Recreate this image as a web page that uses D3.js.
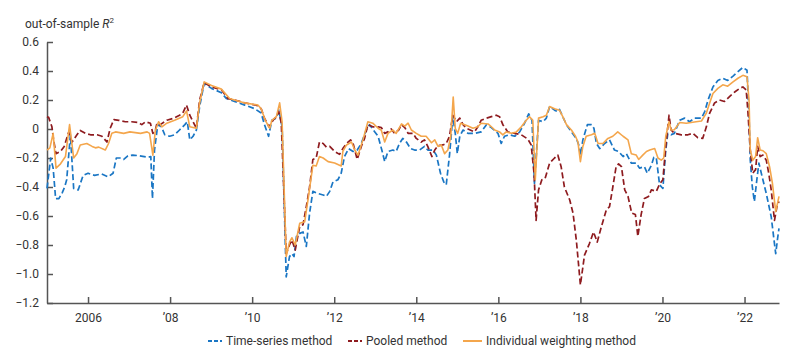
<!DOCTYPE html>
<html><head><meta charset="utf-8">
<script src="https://cdn.jsdelivr.net/npm/d3@7"></script>
<style>
body{margin:0;background:#fff;}
text{font-family:Roboto,"Noto Sans",sans-serif;}
</style></head><body>
<svg id="chart" width="800" height="363"></svg>
<script>
// ---- data (decimal years, out-of-sample R^2) ----
const tsDates = [2005.00,2005.09,2005.15,2005.21,2005.29,2005.37,2005.43,2005.48,2005.57,2005.65,2005.76,2005.88,2006.00,2006.16,2006.33,2006.49,2006.61,2006.69,2006.81,2006.87,2006.97,2007.09,2007.26,2007.46,2007.53,2007.57,2007.62,2007.70,2007.79,2007.87,2007.99,2008.11,2008.23,2008.36,2008.42,2008.48,2008.56,2008.64,2008.72,2008.83,2009.01,2009.25,2009.37,2009.57,2009.82,2010.06,2010.22,2010.30,2010.40,2010.48,2010.59,2010.65,2010.73,2010.83,2010.91,2010.97,2011.02,2011.08,2011.16,2011.24,2011.32,2011.40,2011.48,2011.60,2011.73,2011.81,2011.89,2011.97,2012.09,2012.17,2012.25,2012.35,2012.46,2012.56,2012.66,2012.78,2012.86,2012.99,2013.07,2013.16,2013.23,2013.31,2013.43,2013.51,2013.59,2013.67,2013.76,2013.86,2013.96,2014.08,2014.20,2014.28,2014.41,2014.49,2014.59,2014.67,2014.73,2014.81,2014.89,2014.95,2015.00,2015.06,2015.14,2015.26,2015.42,2015.58,2015.71,2015.83,2015.99,2016.07,2016.15,2016.27,2016.40,2016.52,2016.64,2016.74,2016.82,2016.88,2016.98,2017.09,2017.17,2017.25,2017.37,2017.44,2017.49,2017.57,2017.66,2017.78,2017.90,2017.96,2018.00,2018.06,2018.17,2018.27,2018.33,2018.39,2018.47,2018.59,2018.71,2018.83,2018.93,2019.04,2019.12,2019.24,2019.36,2019.44,2019.56,2019.63,2019.73,2019.79,2019.85,2019.93,2020.01,2020.08,2020.13,2020.21,2020.29,2020.42,2020.54,2020.66,2020.78,2020.95,2021.03,2021.11,2021.23,2021.35,2021.47,2021.59,2021.72,2021.84,2021.96,2022.06,2022.11,2022.14,2022.19,2022.24,2022.30,2022.35,2022.43,2022.53,2022.65,2022.71,2022.76,2022.81,2022.84];
const tsValues = [-0.41,-0.20,-0.27,-0.48,-0.48,-0.44,-0.40,-0.35,-0.04,-0.41,-0.42,-0.32,-0.305,-0.32,-0.31,-0.33,-0.305,-0.20,-0.20,-0.21,-0.185,-0.18,-0.185,-0.195,-0.19,-0.48,-0.145,0.03,0.015,-0.04,-0.05,-0.04,-0.007,0.03,0.05,-0.075,-0.05,-0.007,0.155,0.315,0.28,0.25,0.21,0.19,0.165,0.14,0.11,0.03,-0.05,0.06,0.075,0.13,0.015,-1.02,-0.88,-0.86,-0.88,-0.74,-0.72,-0.71,-0.81,-0.58,-0.43,-0.445,-0.455,-0.465,-0.43,-0.365,-0.35,-0.305,-0.19,-0.135,-0.155,-0.145,-0.10,-0.007,0.03,-0.02,-0.05,-0.145,-0.225,-0.155,-0.145,-0.155,-0.10,-0.065,-0.09,-0.135,-0.145,-0.145,-0.12,-0.145,-0.145,-0.18,-0.305,-0.365,-0.385,-0.18,0.085,-0.03,-0.17,-0.05,-0.007,-0.03,-0.03,-0.02,0.03,0.01,-0.03,-0.10,-0.05,-0.04,-0.05,-0.02,0.04,0.105,0.06,-0.375,0.06,0.05,0.075,0.155,0.13,0.12,0.135,0.085,0.03,-0.02,-0.065,-0.11,-0.18,-0.075,0.03,0.03,0.005,-0.10,-0.135,-0.10,-0.075,-0.145,-0.155,-0.19,-0.17,-0.235,-0.235,-0.27,-0.26,-0.305,-0.25,-0.195,-0.20,-0.385,-0.41,-0.145,-0.03,-0.04,-0.03,0.06,0.075,0.05,0.075,0.075,0.12,0.20,0.29,0.335,0.35,0.335,0.365,0.395,0.425,0.405,0.085,-0.215,-0.40,-0.50,-0.35,-0.235,-0.33,-0.445,-0.605,-0.745,-0.86,-0.745,-0.685];

const pooledDates = [2005.00,2005.04,2005.12,2005.16,2005.22,2005.33,2005.42,2005.53,2005.61,2005.73,2005.81,2005.94,2006.06,2006.22,2006.34,2006.46,2006.54,2006.63,2006.75,2006.91,2007.06,2007.23,2007.31,2007.40,2007.52,2007.58,2007.64,2007.68,2007.76,2007.92,2008.09,2008.23,2008.31,2008.40,2008.48,2008.56,2008.64,2008.72,2008.83,2009.01,2009.25,2009.41,2009.57,2009.82,2010.10,2010.22,2010.30,2010.41,2010.51,2010.59,2010.65,2010.71,2010.83,2010.91,2010.97,2011.05,2011.16,2011.24,2011.32,2011.40,2011.48,2011.56,2011.64,2011.73,2011.81,2011.89,2012.01,2012.13,2012.21,2012.30,2012.40,2012.46,2012.56,2012.66,2012.74,2012.82,2012.94,2013.07,2013.15,2013.23,2013.31,2013.39,2013.47,2013.57,2013.64,2013.72,2013.80,2013.92,2014.00,2014.12,2014.20,2014.28,2014.38,2014.45,2014.53,2014.65,2014.73,2014.81,2014.89,2014.98,2015.06,2015.14,2015.22,2015.30,2015.42,2015.50,2015.58,2015.71,2015.83,2015.95,2016.03,2016.11,2016.23,2016.40,2016.56,2016.72,2016.80,2016.87,2016.92,2016.98,2017.06,2017.14,2017.25,2017.37,2017.45,2017.53,2017.61,2017.74,2017.82,2017.90,2018.00,2018.10,2018.22,2018.32,2018.41,2018.51,2018.63,2018.71,2018.79,2018.87,2018.93,2019.00,2019.08,2019.16,2019.25,2019.34,2019.40,2019.48,2019.56,2019.66,2019.73,2019.85,2019.93,2020.01,2020.08,2020.16,2020.21,2020.29,2020.46,2020.62,2020.74,2020.86,2020.98,2021.07,2021.15,2021.27,2021.39,2021.51,2021.64,2021.76,2021.88,2021.96,2022.04,2022.08,2022.14,2022.20,2022.27,2022.32,2022.38,2022.45,2022.53,2022.59,2022.65,2022.73,2022.79,2022.84];
const pooledValues = [0.085,0.08,0.015,-0.075,-0.17,-0.155,-0.12,-0.02,-0.09,-0.04,-0.01,-0.03,-0.04,-0.04,-0.05,-0.09,0.005,0.065,0.06,0.05,0.05,0.045,0.03,0.05,0.04,-0.03,-0.01,0.04,0.03,0.06,0.075,0.095,0.11,0.165,0.095,0.05,0.005,0.20,0.32,0.29,0.27,0.21,0.20,0.18,0.165,0.14,0.075,0.015,0.06,0.085,0.12,0.04,-0.86,-0.80,-0.765,-0.835,-0.67,-0.66,-0.535,-0.40,-0.21,-0.20,-0.09,-0.10,-0.125,-0.12,-0.155,-0.175,-0.135,-0.10,-0.075,-0.10,-0.21,-0.12,-0.065,0.03,0.015,0.015,0.01,-0.03,-0.02,0.0,-0.03,-0.007,0.03,0.01,-0.03,-0.03,-0.065,-0.09,-0.075,-0.12,-0.19,-0.145,-0.115,-0.11,-0.10,-0.05,0.095,0.05,0.075,0.03,0.005,-0.005,-0.02,0.015,0.06,0.075,0.085,0.095,0.085,0.03,-0.02,-0.03,-0.04,-0.07,-0.11,-0.305,-0.63,-0.42,-0.35,-0.34,-0.235,-0.20,-0.18,-0.26,-0.40,-0.49,-0.58,-0.765,-1.075,-0.87,-0.79,-0.71,-0.78,-0.675,-0.56,-0.535,-0.40,-0.26,-0.24,-0.26,-0.42,-0.465,-0.58,-0.59,-0.74,-0.59,-0.48,-0.465,-0.42,-0.43,-0.38,-0.35,-0.12,0.095,-0.007,-0.03,-0.04,-0.04,-0.03,-0.06,-0.065,0.015,0.11,0.18,0.20,0.19,0.225,0.255,0.28,0.29,0.27,0.13,-0.145,-0.305,-0.28,-0.12,-0.19,-0.18,-0.215,-0.305,-0.42,-0.63,-0.535,-0.50];

const indivDates = [2005.00,2005.07,2005.15,2005.22,2005.33,2005.45,2005.55,2005.65,2005.73,2005.81,2005.97,2006.10,2006.18,2006.26,2006.42,2006.50,2006.58,2006.67,2006.87,2007.02,2007.28,2007.44,2007.50,2007.58,2007.64,2007.72,2007.80,2007.92,2008.11,2008.31,2008.40,2008.48,2008.64,2008.72,2008.83,2009.01,2009.25,2009.45,2009.57,2009.82,2010.14,2010.22,2010.32,2010.43,2010.48,2010.59,2010.67,2010.73,2010.83,2010.91,2010.97,2011.05,2011.16,2011.28,2011.36,2011.48,2011.56,2011.64,2011.73,2011.85,2012.01,2012.17,2012.21,2012.30,2012.42,2012.50,2012.58,2012.70,2012.82,2012.94,2013.07,2013.15,2013.23,2013.31,2013.43,2013.51,2013.64,2013.72,2013.80,2013.88,2014.00,2014.12,2014.24,2014.37,2014.45,2014.53,2014.61,2014.69,2014.77,2014.84,2014.90,2014.95,2015.01,2015.08,2015.18,2015.26,2015.38,2015.50,2015.58,2015.75,2015.87,2015.91,2016.03,2016.11,2016.19,2016.32,2016.44,2016.56,2016.68,2016.76,2016.84,2016.90,2016.98,2017.09,2017.17,2017.25,2017.37,2017.49,2017.57,2017.66,2017.78,2017.88,2017.94,2018.00,2018.06,2018.14,2018.27,2018.35,2018.43,2018.55,2018.67,2018.79,2018.91,2019.04,2019.16,2019.24,2019.36,2019.42,2019.52,2019.61,2019.69,2019.81,2019.89,2019.97,2020.03,2020.08,2020.16,2020.21,2020.29,2020.42,2020.58,2020.70,2020.82,2020.95,2021.07,2021.15,2021.23,2021.35,2021.47,2021.59,2021.72,2021.84,2021.96,2022.06,2022.11,2022.14,2022.20,2022.27,2022.32,2022.38,2022.45,2022.53,2022.61,2022.68,2022.76,2022.84];
const indivValues = [-0.145,-0.13,-0.03,-0.27,-0.24,-0.19,0.03,-0.20,-0.17,-0.11,-0.10,-0.12,-0.13,-0.125,-0.145,-0.10,-0.03,-0.02,-0.03,-0.02,-0.03,-0.02,-0.03,-0.18,-0.01,0.05,0.015,0.04,0.06,0.085,0.125,0.015,0.005,0.18,0.325,0.30,0.275,0.21,0.20,0.18,0.165,0.14,0.06,0.005,0.06,0.085,0.18,0.05,-0.88,-0.78,-0.75,-0.80,-0.65,-0.64,-0.49,-0.25,-0.255,-0.19,-0.20,-0.225,-0.235,-0.255,-0.155,-0.11,-0.09,-0.145,-0.18,-0.075,0.05,0.04,0.005,-0.01,-0.09,-0.03,-0.007,-0.03,0.035,0.02,0.04,-0.007,-0.03,-0.05,-0.05,-0.095,-0.075,-0.12,-0.11,-0.17,-0.145,-0.05,0.22,0.005,-0.03,0.04,0.03,0.02,0.005,0.015,0.04,0.035,0.005,-0.007,-0.02,-0.04,-0.02,-0.03,-0.02,0.015,0.06,0.085,0.06,-0.35,0.075,0.085,0.095,0.155,0.14,0.13,0.085,0.03,-0.007,-0.05,-0.09,-0.225,-0.12,-0.05,-0.04,-0.03,-0.10,-0.10,-0.065,-0.05,-0.02,-0.05,-0.075,-0.17,-0.18,-0.21,-0.18,-0.155,-0.145,-0.135,-0.20,-0.215,-0.20,-0.05,0.05,-0.007,-0.005,0.045,0.04,0.045,0.05,0.055,0.11,0.18,0.245,0.28,0.305,0.295,0.325,0.35,0.37,0.36,0.20,-0.145,-0.215,-0.19,-0.06,-0.145,-0.15,-0.17,-0.26,-0.375,-0.57,-0.465];

const xTickYears = [2006,2008,2010,2012,2014,2016,2018,2020,2022];
const yTickValues = [-1.2,-1.0,-0.8,-0.6,-0.4,-0.2,0,0.2,0.4,0.6];
const seriesNames = ["Time-series method","Pooled method","Individual weighting method"];
const seriesColors = ["#1a76c4","#8e1b1f","#f4a64c"];

// ---- chart ----
const svg = d3.select("#chart");
const x = d3.scaleLinear().domain([2005, 2022.84]).range([47, 779]);
const y = d3.scaleLinear().domain([-1.2, 0.6]).range([303, 42]);

const fmtY = v => {
  if (Math.abs(v) < 1e-9) return "0";
  const s = Math.abs(v).toFixed(1);
  return v < 0 ? "\u2212" + s : s;
};
const fmtX = v => v === 2006 ? "2006" : "\u2019" + String(v).slice(2);

// y axis
const yAxis = svg.append("g").attr("transform","translate(47,0)")
  .call(d3.axisLeft(y).tickValues(yTickValues).tickFormat(fmtY).tickSizeInner(-6).tickSizeOuter(0).tickPadding(8));
yAxis.select(".domain").attr("stroke","#555").attr("stroke-width",1.5);
yAxis.selectAll(".tick line").attr("stroke","#555").attr("stroke-width",1.5);
yAxis.selectAll(".tick text").attr("fill","#333").style("font-size","12px");

// x axis
const xAxis = svg.append("g").attr("transform","translate(0,303)")
  .call(d3.axisBottom(x).tickValues(xTickYears).tickFormat(fmtX).tickSizeInner(-6).tickSizeOuter(0).tickPadding(10));
xAxis.select(".domain").attr("stroke","#555").attr("stroke-width",1.5);
xAxis.selectAll(".tick line").attr("stroke","#555").attr("stroke-width",1.5);
xAxis.selectAll(".tick text").attr("fill","#333").style("font-size","12px");

// y axis title
const title = svg.append("text").attr("x",25).attr("y",28).attr("fill","#333").style("font-size","12px");
title.append("tspan").text("out-of-sample ");
title.append("tspan").style("font-style","italic").text("R");
title.append("tspan").attr("dy",-5).style("font-size","8px").text("2");

// lines
const line = d3.line().x(d => x(d[0])).y(d => y(d[1]));
const series = [
  {dates: tsDates, values: tsValues, dash: "6,3", width: 1.7},
  {dates: pooledDates, values: pooledValues, dash: "6,3", width: 1.7},
  {dates: indivDates, values: indivValues, dash: null, width: 1.6}
];
[0,1,2].forEach(i => {
  const s = series[i];
  const pts = s.dates.map((d,j) => [d, s.values[j]]);
  const p = svg.append("path").datum(pts).attr("d", line)
    .attr("fill","none").attr("stroke", seriesColors[i])
    .attr("stroke-width", s.width).attr("stroke-linejoin","round");
  if (s.dash) p.attr("stroke-dasharray", s.dash);
});

// legend
const legendX = [208, 348, 463];
const legend = svg.append("g");
seriesNames.forEach((name,i) => {
  const g = legend.append("g").attr("transform",`translate(${legendX[i]},341)`);
  g.append("line").attr("x1",0).attr("x2",i===2?19:14).attr("y1",0).attr("y2",0)
    .attr("stroke",seriesColors[i]).attr("stroke-width",2)
    .attr("stroke-dasharray", series[i].dash ? "4,2" : null);
  g.append("text").attr("x", i===2?23:18).attr("y",4).attr("fill","#333").style("font-size","12px").text(name);
});
</script>
</body></html>
